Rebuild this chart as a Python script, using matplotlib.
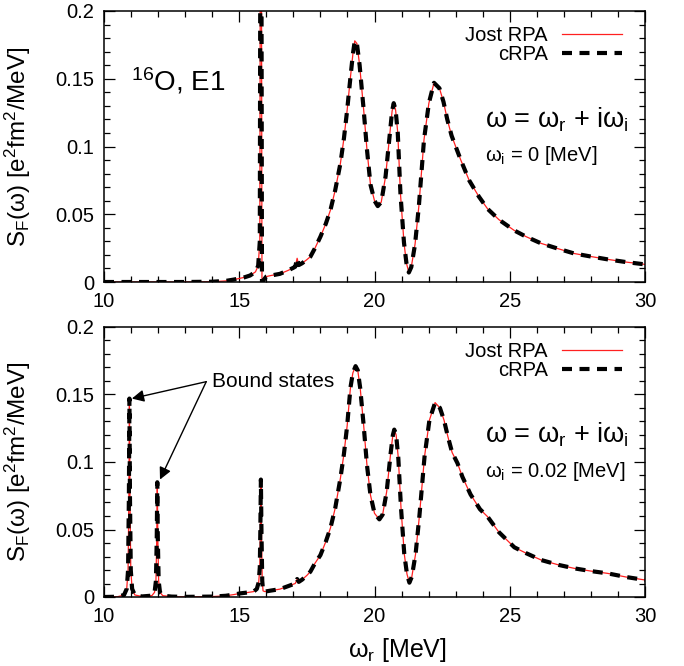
import matplotlib
matplotlib.use("Agg")
import matplotlib.pyplot as plt
from matplotlib.ticker import MultipleLocator, FuncFormatter

plt.rcParams['font.family'] = ['Liberation Sans', 'DejaVu Sans']
plt.rcParams['mathtext.fontset'] = 'custom'
plt.rcParams['mathtext.rm'] = 'Liberation Sans'
plt.rcParams['mathtext.it'] = 'Liberation Sans:italic'

# ---- data: omega_i = 0 (top panel) ----
w_top = [10.0, 11.0, 12.0, 13.0, 14.0, 14.5, 14.8, 15.0, 15.2, 15.4, 15.6, 15.7,
         15.76, 15.80, 15.84, 15.9, 16.0, 16.15, 16.5, 16.8, 17.0, 17.07,
         17.14, 17.2, 17.32, 17.5, 17.63, 17.8, 18.0, 18.2, 18.37, 18.55, 18.74,
         18.87, 18.99, 19.11, 19.2, 19.27, 19.35, 19.45, 19.6, 19.72, 19.85, 20.0,
         20.12, 20.25, 20.41, 20.57, 20.65, 20.71, 20.78, 20.86, 20.96, 21.09,
         21.18, 21.27, 21.36, 21.5, 21.64, 21.83, 22.01, 22.2, 22.4, 22.55, 22.69,
         22.85, 23.0, 23.19, 23.5, 23.86, 24.18, 24.6, 25.17, 25.6, 26.16, 26.8,
         27.39, 28.0, 28.62, 29.3, 30.0]
s_top = [0.0, 0.0, 0.0, 0.0, 0.0002, 0.0008, 0.0018, 0.0026, 0.0035, 0.0048, 0.0075,
         0.012, 0.03, 0.5, 0.0, 0.0015, 0.004, 0.0047, 0.006, 0.0085, 0.0105,
         0.0113, 0.0175, 0.0125, 0.0138, 0.0165, 0.0187, 0.025, 0.0334, 0.043, 0.053,
         0.068, 0.0876, 0.106, 0.127, 0.151, 0.168, 0.178, 0.176, 0.160, 0.127, 0.098,
         0.072, 0.060, 0.056, 0.059, 0.078, 0.11, 0.126, 0.132, 0.127, 0.11, 0.065,
         0.029, 0.014, 0.007, 0.011, 0.028, 0.056, 0.105, 0.132, 0.147, 0.143, 0.133,
         0.120, 0.108, 0.100, 0.090, 0.075, 0.063, 0.054, 0.046, 0.038, 0.0335, 0.0285,
         0.0245, 0.021, 0.0188, 0.0167, 0.0147, 0.013]

# ---- data: omega_i = 0.02 (bottom panel) ----
w_bot = [10.0, 10.5, 10.74, 10.84, 10.89, 10.92, 10.94, 10.96, 10.99, 11.04, 11.14,
         11.4, 11.77, 11.87, 11.92, 11.95, 11.97, 11.99, 12.02, 12.07, 12.17, 12.5,
         13.0, 14.0, 14.5, 14.8, 15.04, 15.3, 15.53, 15.65, 15.72, 15.76, 15.78,
         15.80, 15.82, 15.85, 15.88, 15.95, 16.15, 16.5, 16.8, 17.0, 17.07, 17.14,
         17.2, 17.32, 17.5, 17.63, 17.8, 18.0, 18.2, 18.37, 18.55, 18.74, 18.87,
         18.99, 19.11, 19.2, 19.3, 19.38, 19.47, 19.6, 19.72, 19.85, 20.0, 20.18,
         20.3, 20.45, 20.6, 20.68, 20.73, 20.8, 20.88, 20.98, 21.1, 21.2, 21.29,
         21.38, 21.52, 21.66, 21.85, 22.03, 22.24, 22.42, 22.57, 22.71, 22.87,
         23.07, 23.25, 23.55, 23.9, 24.18, 24.6, 25.17, 25.6, 26.16, 26.8, 27.39,
         28.0, 28.62, 29.3, 30.0]
s_bot = [0.0, 0.0002, 0.0015, 0.006, 0.02, 0.074, 0.147, 0.074, 0.02, 0.006, 0.0015,
         0.0004, 0.001, 0.0035, 0.012, 0.043, 0.085, 0.043, 0.012, 0.0035, 0.001,
         0.0003, 0.0001, 0.0003, 0.0009, 0.0018, 0.0027, 0.0033, 0.004, 0.006,
         0.011, 0.022, 0.05, 0.087, 0.05, 0.012, 0.0045, 0.004, 0.0047, 0.0058,
         0.008, 0.0095, 0.010, 0.0133, 0.0112, 0.0128, 0.0160, 0.0188, 0.025, 0.031,
         0.041, 0.051, 0.066, 0.088, 0.106, 0.127, 0.155, 0.166, 0.171, 0.168, 0.155,
         0.127, 0.098, 0.0756, 0.062, 0.0575, 0.061, 0.078, 0.107, 0.12, 0.124,
         0.12, 0.103, 0.066, 0.032, 0.017, 0.0106, 0.015, 0.032, 0.060, 0.104, 0.131,
         0.144, 0.140, 0.131, 0.119, 0.107, 0.099, 0.089, 0.076, 0.065, 0.0595,
         0.048, 0.0368, 0.0325, 0.0274, 0.0238, 0.0212, 0.0192, 0.0175, 0.0148,
         0.0126]

x_ticks = [10, 15, 20, 25, 30]
y_ticks = [0, 0.05, 0.1, 0.15, 0.2]

fig = plt.figure(figsize=(6.84, 6.66), dpi=100)
W, H = 684, 666
ax_top = fig.add_axes([104 / W, 1 - 282 / H, 541 / W, 271 / H])
ax_bot = fig.add_axes([104 / W, 1 - 597 / H, 541 / W, 270 / H])

def fmt(v, pos):
    return '%g' % v

for ax, (w, s), wi_text in [(ax_top, (w_top, s_top), r'ω$_\mathregular{i}$ = 0 [MeV]'),
                            (ax_bot, (w_bot, s_bot), r'ω$_\mathregular{i}$ = 0.02 [MeV]')]:
    ax.plot(w, s, color='#ff2020', lw=0.9, label='Jost RPA', zorder=2)
    ax.plot(w, s, color='black', lw=3.0, dashes=(2.4, 1.8), label='cRPA', zorder=3)
    ax.set_xlim(10, 30)
    ax.set_ylim(0, 0.2)
    ax.set_xticks(x_ticks)
    ax.set_yticks(y_ticks)
    ax.xaxis.set_minor_locator(MultipleLocator(1))
    ax.yaxis.set_minor_locator(MultipleLocator(0.01))
    ax.yaxis.set_major_formatter(FuncFormatter(fmt))
    ax.tick_params(which='both', direction='in', top=True, right=True, labelsize=14.5,
                   width=0.9, pad=7)
    ax.tick_params(which='major', length=8)
    ax.tick_params(which='minor', length=4.5)
    for sp in ax.spines.values():
        sp.set_linewidth(1.1)
    ax.set_ylabel(r'S$_\mathregular{F}$(ω) [e$^\mathregular{2}$fm$^\mathregular{2}$/MeV]',
                  fontsize=17.5)
    ax.yaxis.set_label_coords((33 - 104) / 541, 0.5)
    ax.legend(loc='upper right', bbox_to_anchor=(0.958, 0.945), frameon=False,
              markerfirst=False, fontsize=14.5, handlelength=3.0,
              handletextpad=0.7, labelspacing=0.0, borderpad=0,
              borderaxespad=0)
    ax.text(0.705, 0.60, r'ω = ω$_\mathregular{r}$ + iω$_\mathregular{i}$', transform=ax.transAxes,
            fontsize=19.5, ha='left', va='center')
    ax.text(0.705, 0.465, wi_text, transform=ax.transAxes, fontsize=14.5,
            ha='left', va='center')

ax_top.text(0.05, 0.74, r'$^\mathregular{16}$O, E1', transform=ax_top.transAxes,
            fontsize=20, ha='left', va='center')

# bound states annotation
for head in [(11.03, 0.147), (12.07, 0.087)]:
    ax_bot.annotate('', xy=head, xytext=(13.78, 0.1595),
                    arrowprops=dict(arrowstyle='-|>', color='black', lw=1.0,
                                    mutation_scale=18, shrinkA=0, shrinkB=0))
ax_bot.text(13.98, 0.1595, 'Bound states', fontsize=15, ha='left', va='center')

fig.text(397 / W, 1 - 650 / H, r'ω$_\mathregular{r}$ [MeV]', fontsize=18,
         ha='center', va='center')

fig.savefig('out.png', dpi=100)
